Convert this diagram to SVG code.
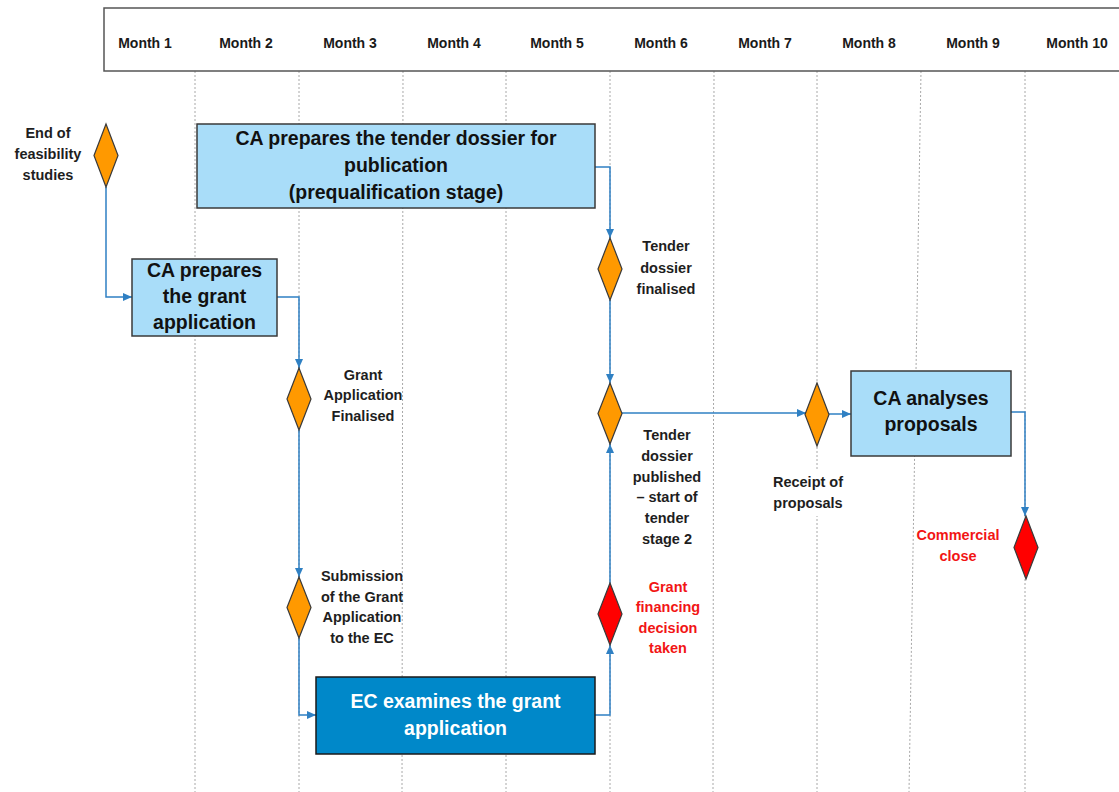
<svg xmlns="http://www.w3.org/2000/svg" width="1119" height="792" viewBox="0 0 1119 792">
  <style>
    text { font-family: "Liberation Sans", Arial, sans-serif; font-weight: bold; text-anchor: middle; }
    .month { font-size: 14px; fill: #1a1a1a; }
    .lbl { font-size: 14.5px; fill: #1e1e1e; }
    .lbl-red { font-size: 14.5px; fill: #f21515; }
    .boxtxt { font-size: 19.5px; fill: #111; }
    .boxtxt-w { font-size: 19.5px; fill: #ffffff; }
    .grid { stroke: #a8a8a8; stroke-width: 1; stroke-dasharray: 2 2; fill: none; }
    .task { fill: #a9ddf9; stroke: #3a3a3a; stroke-width: 1.5; }
    .task-dark { fill: #0088c9; stroke: #1a1a1a; stroke-width: 1.5; }
    .ms { fill: #ff9900; stroke: #3a3a3a; stroke-width: 1.2; }
    .ms-red { fill: #ff0000; stroke: #3a3a3a; stroke-width: 1.2; }
    .conn { fill: none; stroke: #2f80c3; stroke-width: 1.5; marker-end: url(#arrow); }
  </style>
  <defs>
    <marker id="arrow" markerUnits="userSpaceOnUse" markerWidth="10" markerHeight="8" refX="9" refY="4" orient="auto">
      <path d="M0,0 L9,4 L0,8 Z" fill="#2f80c3"/>
    </marker>
  </defs>

  <rect width="1119" height="792" fill="#ffffff"/>

  <!-- month grid -->
  <g id="grid">
    <line class="grid" x1="195" y1="71" x2="195" y2="792"/>
    <line class="grid" x1="299" y1="71" x2="299" y2="792"/>
    <line class="grid" x1="403" y1="71" x2="402" y2="792"/>
    <line class="grid" x1="506" y1="71" x2="506" y2="792"/>
    <line class="grid" x1="610" y1="71" x2="610" y2="792"/>
    <line class="grid" x1="714" y1="71" x2="713" y2="792"/>
    <line class="grid" x1="817" y1="71" x2="817" y2="792"/>
    <line class="grid" x1="921" y1="71" x2="909" y2="792"/>
    <line class="grid" x1="1025" y1="71" x2="1025" y2="792"/>
  </g>

  <!-- timeline header -->
  <g id="header">
    <rect x="104" y="8" width="1030" height="63" fill="#ffffff" stroke="#555555" stroke-width="1.5"/>
    <text class="month" x="145" y="48">Month 1</text>
    <text class="month" x="246" y="48">Month 2</text>
    <text class="month" x="350" y="48">Month 3</text>
    <text class="month" x="454" y="48">Month 4</text>
    <text class="month" x="557" y="48">Month 5</text>
    <text class="month" x="661" y="48">Month 6</text>
    <text class="month" x="765" y="48">Month 7</text>
    <text class="month" x="869" y="48">Month 8</text>
    <text class="month" x="973" y="48">Month 9</text>
    <text class="month" x="1077" y="48">Month 10</text>
  </g>

  <!-- connectors -->
  <g id="connectors">
    <path class="conn" d="M106,187 V297 H132"/>
    <path class="conn" d="M277,297 H299 V368"/>
    <path class="conn" d="M299,430 V577"/>
    <path class="conn" d="M299,638 V715 H316"/>
    <path class="conn" d="M595,167 H610 V238"/>
    <path class="conn" d="M610,300 V383"/>
    <path class="conn" d="M595,715 H610 V645"/>
    <path class="conn" d="M610,583 V444"/>
    <path class="conn" d="M622,413 H806"/>
    <path class="conn" d="M829,414 H851"/>
    <path class="conn" d="M1011,412 H1025 V516"/>
  </g>

  <!-- tasks -->
  <g id="task-tender-dossier">
    <rect class="task" x="197" y="124" width="398" height="84"/>
    <text class="boxtxt" x="396" y="145">CA prepares the tender dossier for</text>
    <text class="boxtxt" x="396" y="172">publication</text>
    <text class="boxtxt" x="396" y="199">(prequalification stage)</text>
  </g>

  <g id="task-grant-application">
    <rect class="task" x="132" y="259" width="145" height="77"/>
    <text class="boxtxt" x="204.5" y="277">CA prepares</text>
    <text class="boxtxt" x="204.5" y="303">the grant</text>
    <text class="boxtxt" x="204.5" y="329">application</text>
  </g>

  <g id="task-ec-examines">
    <rect class="task-dark" x="316" y="677" width="279" height="77"/>
    <text class="boxtxt-w" x="455.5" y="708">EC examines the grant</text>
    <text class="boxtxt-w" x="455.5" y="735">application</text>
  </g>

  <g id="task-analyses">
    <rect class="task" x="851" y="371" width="160" height="85"/>
    <text class="boxtxt" x="931" y="405">CA analyses</text>
    <text class="boxtxt" x="931" y="431">proposals</text>
  </g>

  <!-- milestones -->
  <g id="ms-feasibility">
    <path class="ms" d="M106,124 L118,155.5 L106,187 L94,155.5 Z"/>
    <text class="lbl" x="48" y="138">End of</text>
    <text class="lbl" x="48" y="159">feasibility</text>
    <text class="lbl" x="48" y="180">studies</text>
  </g>

  <g id="ms-grant-finalised">
    <path class="ms" d="M299,368 L311,399 L299,430 L287,399 Z"/>
    <text class="lbl" x="363" y="380">Grant</text>
    <text class="lbl" x="363" y="400">Application</text>
    <text class="lbl" x="363" y="421">Finalised</text>
  </g>

  <g id="ms-submission">
    <path class="ms" d="M299,577 L311,607.5 L299,638 L287,607.5 Z"/>
    <text class="lbl" x="362" y="581">Submission</text>
    <text class="lbl" x="362" y="602">of the Grant</text>
    <text class="lbl" x="362" y="622">Application</text>
    <text class="lbl" x="362" y="643">to the EC</text>
  </g>

  <g id="ms-tender-finalised">
    <path class="ms" d="M610,238 L622,269 L610,300 L598,269 Z"/>
    <text class="lbl" x="666" y="251">Tender</text>
    <text class="lbl" x="666" y="273">dossier</text>
    <text class="lbl" x="666" y="294">finalised</text>
  </g>

  <g id="ms-tender-published">
    <path class="ms" d="M610,383 L622,413.5 L610,444 L598,413.5 Z"/>
    <text class="lbl" x="667" y="440">Tender</text>
    <text class="lbl" x="667" y="461">dossier</text>
    <text class="lbl" x="667" y="482">published</text>
    <text class="lbl" x="667" y="502">– start of</text>
    <text class="lbl" x="667" y="523">tender</text>
    <text class="lbl" x="667" y="544">stage 2</text>
  </g>

  <g id="ms-grant-decision">
    <path class="ms-red" d="M610,583 L622,614 L610,645 L598,614 Z"/>
    <text class="lbl-red" x="668" y="592">Grant</text>
    <text class="lbl-red" x="668" y="612">financing</text>
    <text class="lbl-red" x="668" y="633">decision</text>
    <text class="lbl-red" x="668" y="653">taken</text>
  </g>

  <g id="ms-receipt">
    <path class="ms" d="M817,383 L829,414.5 L817,446 L805,414.5 Z"/>
    <rect x="770" y="470" width="78" height="46" fill="#ffffff"/>
    <text class="lbl" x="808" y="487">Receipt of</text>
    <text class="lbl" x="808" y="508">proposals</text>
  </g>

  <g id="ms-commercial-close">
    <path class="ms-red" d="M1026,516 L1038,547.5 L1026,579 L1014,547.5 Z"/>
    <rect x="914" y="523" width="88" height="46" fill="#ffffff"/>
    <text class="lbl-red" x="958" y="540">Commercial</text>
    <text class="lbl-red" x="958" y="561">close</text>
  </g>
</svg>
